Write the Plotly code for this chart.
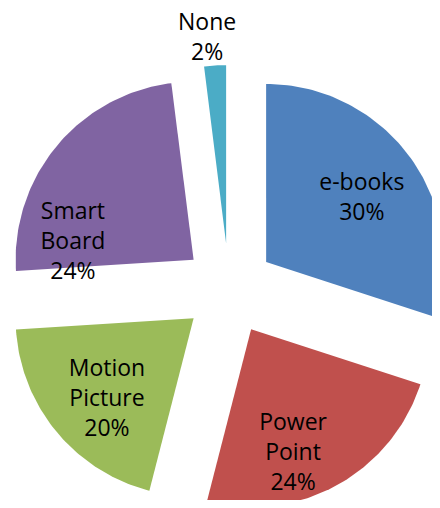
import numpy as np
import plotly.graph_objects as go

# data
labels = ["e-books", "Power Point", "Motion Picture", "Smart Board", "None"]
values = [30, 24, 20, 24, 2]

colors = ["#4F81BD", "#C0504D", "#9BBB59", "#8064A2", "#4BACC6"]

# exploded-pie look: every slice pulled out along its bisector
PULL = 0.258
# label placement (nudge from bisector in degrees, distance from centre in radii)
label_nudge = [2.0, 7.6, -2.7, -23.2, -1.4]
label_dist = [0.90, 0.995, 0.927, 0.914, 1.41]


def wedge(a0, a1, pull, n=80):
    mid = np.radians((a0 + a1) / 2)
    ox, oy = pull * np.sin(mid), pull * np.cos(mid)
    th = np.radians(np.linspace(a0, a1, n))
    xs = np.concatenate([[ox], ox + np.sin(th), [ox]])
    ys = np.concatenate([[oy], oy + np.cos(th), [oy]])
    return xs, ys


def main():
    total = sum(values)
    fig = go.Figure()

    start = 0.0
    lab_x, lab_y, lab_t = [], [], []
    for i, (name, v) in enumerate(zip(labels, values)):
        span = 360.0 * v / total
        xs, ys = wedge(start, start + span, PULL)
        fig.add_trace(go.Scatter(
            x=xs, y=ys, mode="lines", fill="toself",
            fillcolor=colors[i], line=dict(width=0, color=colors[i]),
            name=name, hoverinfo="text",
            text=f"{name}: {v / total:.0%}",
        ))
        ang = np.radians(start + span / 2 + label_nudge[i])
        lab_x.append(label_dist[i] * np.sin(ang))
        lab_y.append(label_dist[i] * np.cos(ang))
        lab_t.append("<br>".join(name.split()) + f"<br>{v / total:.0%}")
        start += span

    fig.add_trace(go.Scatter(
        x=lab_x, y=lab_y, mode="text", text=lab_t,
        textposition="middle center",
        textfont=dict(family="Open Sans", size=23, color="black"),
        hoverinfo="skip", cliponaxis=False,
    ))

    # page body adds an 8px margin on every side, so the figure is shrunk
    # to fit and the pie centre (229, 289 on the page) sits at (221, 281)
    W, H = 424, 492
    cx, cy = 221, 281
    px_per_unit = 178.0
    fig.update_layout(
        width=W, height=H,
        margin=dict(l=0, r=0, t=0, b=0),
        paper_bgcolor="white", plot_bgcolor="white",
        showlegend=False,
        xaxis=dict(range=[-cx / px_per_unit, (W - cx) / px_per_unit],
                   visible=False, fixedrange=True),
        yaxis=dict(range=[-(H - cy) / px_per_unit, cy / px_per_unit],
                   visible=False, fixedrange=True),
    )

    fig.write_html("out.html")


if __name__ == "__main__":
    main()
